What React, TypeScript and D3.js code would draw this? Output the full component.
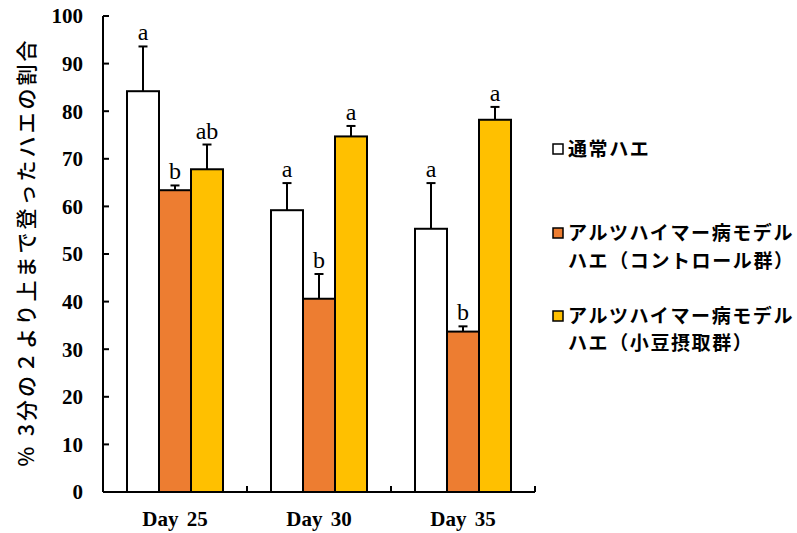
import React from "react";
import * as d3 from "d3";

const days = ["Day 25", "Day 30", "Day 35"];
const seriesNames = ["通常ハエ", "アルツハイマー病モデルハエ（コントロール群）", "アルツハイマー病モデルハエ（小豆摂取群）"];
const legendLines = [["通常ハエ"], ["アルツハイマー病モデル", "ハエ（コントロール群）"], ["アルツハイマー病モデル", "ハエ（小豆摂取群）"]];
const seriesColors = ["#FFFFFF", "#ED7D31", "#FFC000"];
const normalMeans = [84.2, 59.2, 55.3];
const controlMeans = [63.4, 40.6, 33.7];
const azukiMeans = [67.8, 74.7, 78.2];
const normalErr = [9.4, 5.7, 9.6];
const controlErr = [1.0, 5.2, 1.1];
const azukiErr = [5.2, 2.2, 2.7];
const normalLetters = ["a", "a", "a"];
const controlLetters = ["b", "b", "b"];
const azukiLetters = ["ab", "a", "a"];
const yTicks = [0, 10, 20, 30, 40, 50, 60, 70, 80, 90, 100];
const yTitle = "% 3分の２より上まで登ったハエの割合";

const W = 797;
const H = 533;
const left = 103;
const right = 535;
const top = 16;
const bottom = 492;

export default function App() {
  const x = d3.scaleBand<string>().domain(days).range([left, right]).paddingInner(0).paddingOuter(0);
  const y = d3.scaleLinear().domain([0, 100]).range([bottom, top]);
  const inner = d3
    .scaleBand<number>()
    .domain([0, 1, 2])
    .range([0, x.bandwidth()])
    .paddingOuter(0.75)
    .paddingInner(0);

  const means = [normalMeans, controlMeans, azukiMeans];
  const errs = [normalErr, controlErr, azukiErr];
  const letters = [normalLetters, controlLetters, azukiLetters];
  const serif = "'Liberation Serif', 'Times New Roman', serif";
  const gothic = "'Noto Sans CJK JP', 'Noto Sans', sans-serif";

  const bars: React.ReactNode[] = [];
  days.forEach((d, di) => {
    means.forEach((vals, si) => {
      const bx = (x(d) as number) + (inner(si) as number);
      const bw = inner.bandwidth();
      const v = vals[di];
      const e = errs[si][di];
      const cx = bx + bw / 2;
      bars.push(
        <g key={`${d}-${si}`}>
          <line x1={cx} x2={cx} y1={y(v)} y2={y(v + e)} stroke="#000" strokeWidth={2} />
          <line x1={cx - 4.5} x2={cx + 4.5} y1={y(v + e)} y2={y(v + e)} stroke="#000" strokeWidth={2} />
          <rect x={bx} y={y(v)} width={bw} height={y(0) - y(v)} fill={seriesColors[si]} stroke="#000" strokeWidth={2} />
          <text x={cx} y={y(v + e) - 6} textAnchor="middle" fontFamily={serif} fontSize={24}>
            {letters[si][di]}
          </text>
        </g>
      );
    });
  });

  const legendY = [[149], [233, 261], [316, 343]];

  return (
    <svg width={W} height={H} style={{ position: "absolute", left: 0, top: 0, background: "#fff" }}>
      <rect width={W} height={H} fill="#fff" />
      {bars}
      {/* axes */}
      <line x1={left} x2={left} y1={top} y2={bottom} stroke="#000" strokeWidth={2} />
      <line x1={left} x2={right} y1={bottom} y2={bottom} stroke="#000" strokeWidth={2} />
      {yTicks.map((t) => (
        <g key={t}>
          <line x1={left} x2={left + 6} y1={y(t)} y2={y(t)} stroke="#000" strokeWidth={2} />
          <text x={83} y={y(t)} dy="0.35em" textAnchor="end" fontFamily={serif} fontWeight="bold" fontSize={21}>
            {t}
          </text>
        </g>
      ))}
      {days.map((d) => (
        <g key={d}>
          <line
            x1={(x(d) as number) + x.bandwidth()}
            x2={(x(d) as number) + x.bandwidth()}
            y1={bottom}
            y2={bottom - 6}
            stroke="#000"
            strokeWidth={2}
          />
          <text
            x={(x(d) as number) + x.bandwidth() / 2}
            y={526}
            textAnchor="middle"
            fontFamily={serif}
            fontWeight="bold"
            fontSize={21}
            wordSpacing={3}
          >
            {d}
          </text>
        </g>
      ))}
      <text
        transform={`translate(34, ${(top + bottom) / 2 - 2}) rotate(-90)`}
        textAnchor="middle"
        fontFamily={gothic}
        fontWeight={500}
        fontSize={21}
        letterSpacing={3}
      >
        {yTitle}
      </text>
      {/* legend */}
      {seriesNames.map((name, i) => (
        <g key={name}>
          <rect x={553} y={legendY[i][0] - 5} width={10} height={10} fill={seriesColors[i]} stroke="#000" strokeWidth={1.5} />
          {legendLines[i].map((ln, li) => (
            <text key={li} x={568} y={legendY[i][li]} dy="0.36em" fontFamily={gothic} fontWeight="bold" fontSize={19} letterSpacing={1.6}>
              {ln}
            </text>
          ))}
        </g>
      ))}
    </svg>
  );
}
